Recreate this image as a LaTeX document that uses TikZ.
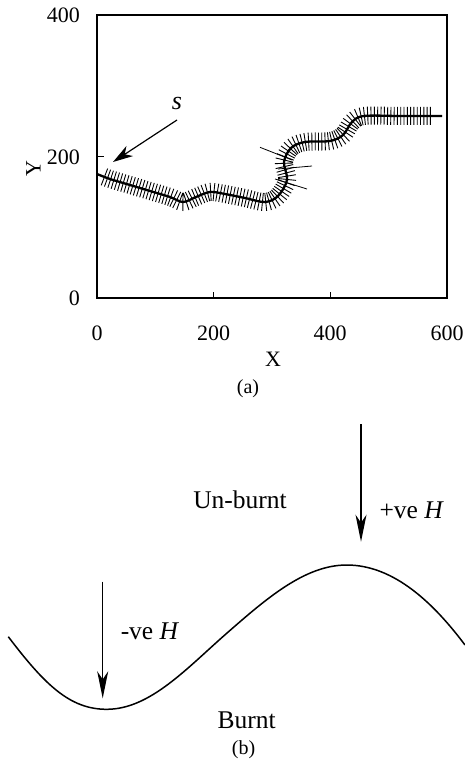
\documentclass[tikz,border=0pt]{standalone}
\usepackage{fontspec}
\setmainfont{Liberation Serif}
\usetikzlibrary{arrows.meta,decorations.pathreplacing}
\begin{document}
\begin{tikzpicture}[x=1pt,y=-1pt,
  lab/.style={inner sep=0pt, font=\fontsize{22}{24}\selectfont},
  big/.style={inner sep=0pt, font=\fontsize{25.5}{28}\selectfont},
  capt/.style={inner sep=0pt, font=\fontsize{20}{22}\selectfont},
  hatchline/.style={draw, line width=0.9pt, decorate,
     decoration={ticks, segment length=3.3pt, amplitude=9pt,
                 pre=lineto, pre length=8pt, post=lineto, post length=9pt}},
  spike/.style={line width=0.8pt},
  sarrow/.style={-{Stealth[length=20pt,width=12pt,inset=6pt]}, line width=1.2pt},
  harrow/.style={-{Stealth[length=27pt,width=11pt,inset=8pt]}, line width=1.3pt}]
\useasboundingbox (0,0) rectangle (465,762);
% ---------- panel (a) ----------
\draw[line width=1.5pt] (97,15) rectangle (447,298);
\draw[line width=0.8pt] (213.7,298) -- ++(0,-6);
\draw[line width=0.8pt] (330.3,298) -- ++(0,-6);
\draw[line width=0.8pt] (97,156.7) -- ++(7,0);
\node[lab, anchor=east] (y400) at (80,15) {400};
\node[lab, anchor=east] (y200) at (80,157) {200};
\node[lab, anchor=east] (y0) at (80,298) {0};
\node[lab] (x0) at (97,333.5) {0};
\node[lab] (x200) at (213.5,333.5) {200};
\node[lab] (x400) at (330,333.5) {400};
\node[lab] (x600) at (447,333.5) {600};
\node[lab] (xl) at (273,359) {X};
\node[lab, rotate=90] (yl) at (33.5,169) {Y};
\node[capt] (capa) at (248,389) {(a)};
% flame front with hatching
\draw[line width=2.3pt, postaction={hatchline}] plot[smooth, tension=0.55] coordinates {
 (97,174) (110,179) (130,185) (150,191) (170,197) (183,202) (196,197)
 (210,192) (225,194) (245,198) (265,202) (278,196) (287,180) (284,162)
 (291,148) (305,142) (330,141) (343,135) (352,122) (364,116) (400,116) (442,116)};
\draw[spike] (260,147.3) -- (292,160);
\draw[spike] (278,169) -- (312,166);
\draw[spike] (275,179) -- (307,189);
% s arrow
\coordinate (stail) at (177,120);
\coordinate (shead) at (113,162);
\draw[sarrow] (stail) -- (shead);
\node[inner sep=0pt, font=\fontsize{26}{28}\selectfont] (slab) at (177,104) {\textit{s}};
% ---------- panel (b) ----------
\draw[line width=1.5pt] (8.3,636.7) .. controls (45,685) and (70,709.3) .. (106.7,709.3)
  .. controls (150,709.3) and (186.7,668.3) .. (226.7,633.3)
  .. controls (266.7,598.3) and (305,565) .. (346.7,565)
  .. controls (395,565) and (435,605) .. (465,645);
\coordinate (ltail) at (102.7,581.7);
\coordinate (lhead) at (102.7,698.3);
\coordinate (rtail) at (361,424);
\coordinate (rhead) at (361,541.7);
\draw[harrow] (ltail) -- (lhead);
\draw[harrow] (rtail) -- (rhead);
\node[big] (unb) at (240,500) {Un-burnt};
\node[big] (pve) at (411.7,510) {+ve \textit{H}};
\node[big] (nve) at (150,631.7) {-ve \textit{H}};
\node[big] (brn) at (246.7,720) {Burnt};
\node[capt] (capb) at (243.5,750) {(b)};
\end{tikzpicture}
\end{document}
